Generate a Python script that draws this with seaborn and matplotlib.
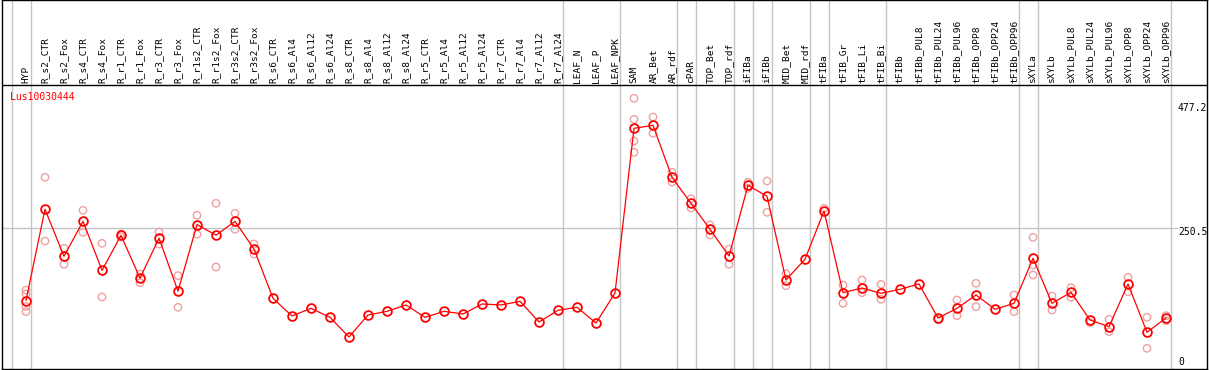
import numpy as np
import pandas as pd
import matplotlib
matplotlib.use("Agg")
import matplotlib.pyplot as plt
import matplotlib.transforms as mtransforms
import seaborn as sns

# ---------------- data ----------------
gene = "Lus10030444"
categories = [
    "HYP", "R_s2_CTR", "R_s2_Fox", "R_s4_CTR", "R_s4_Fox", "R_r1_CTR", "R_r1_Fox",
    "R_r3_CTR", "R_r3_Fox", "R_r1s2_CTR", "R_r1s2_Fox", "R_r3s2_CTR", "R_r3s2_Fox",
    "R_s6_CTR", "R_s6_Al4", "R_s6_Al12", "R_s6_Al24", "R_s8_CTR", "R_s8_Al4",
    "R_s8_Al12", "R_s8_Al24", "R_r5_CTR", "R_r5_Al4", "R_r5_Al12", "R_r5_Al24",
    "R_r7_CTR", "R_r7_Al4", "R_r7_Al12", "R_r7_Al24", "LEAF_N", "LEAF_P", "LEAF_NPK",
    "SAM", "AR_Bet", "AR_rdf", "cPAR", "TOP_Bet", "TOP_rdf", "iFIBa", "iFIBb",
    "MID_Bet", "MID_rdf", "tFIBa", "tFIB_Gr", "tFIB_Li", "tFIB_Bi", "tFIBb",
    "tFIBb_PUL8", "tFIBb_PUL24", "tFIBb_PUL96", "tFIBb_OPP8", "tFIBb_OPP24", "tFIBb_OPP96",
    "sXYLa", "sXYLb", "sXYLb_PUL8", "sXYLb_PUL24", "sXYLb_PUL96", "sXYLb_OPP8",
    "sXYLb_OPP24", "sXYLb_OPP96",
]
means = [
    122.5, 283.5, 200.5, 262.3, 175.8, 237.5, 162.0, 232.5, 139.0, 256.5, 237.8, 262.3, 213.4,
    126.4, 95.3, 108.8, 92.9, 58.2, 97.0, 103.5, 114.7, 92.9, 103.5, 98.8, 116.4,
    114.7, 121.1, 84.7, 105.3, 110.6, 82.9, 135.8,
    426.3, 431.6, 339.9, 294.0, 248.2, 201.1, 325.8, 306.4,
    158.8, 195.3, 280.5, 136.4, 144.6, 135.3, 142.3,
    151.7, 91.7, 108.8, 132.3, 107.1, 117.6,
    197.0, 117.6, 137.0, 88.2, 76.4, 151.7, 66.5, 91.7,
]
replicates = [
    [141, 134, 112, 103], [340, 227.5], [214.6, 186.4], [281.7, 242.9], [223.4, 128.8],
    [240, 235], [169.3, 154], [243.4, 222], [166.4, 110.6], [272.9, 239.4], [294, 181.7],
    [276.4, 248.2], [222.3, 204.6],
    [], [], [], [], [], [], [], [], [], [], [], [], [], [], [], [], [], [], [],
    [479.3, 442.2, 404, 384], [446.3, 417.5], [348.7, 331.6], [302.2, 285.8],
    [255.8, 238.1], [213.4, 186.4], [331.1, 320.5], [333.4, 278.2],
    [169.9, 148.7], [], [285.2], [149.9, 117.6], [158.8, 136.4], [151.1, 124.7], [],
    [], [89.0], [123.5, 95.8], [152.9, 111.7], [], [132.3, 102.9],
    [234, 185.2, 167.6], [130.5, 105.8], [145.2, 128.2], [83.5], [89.4, 67.6],
    [163.5, 138.1], [92.9, 38.2], [95.8, 87.0],
]
group_breaks = [-1, 0, 28, 31, 34, 35, 37, 38, 39, 41, 42, 45, 52, 53, 60]
scale_labels = ["477.2", "250.5", "0"]
scale_values = [477.2, 250.5, 0.0]

# ---------------- frames ----------------
pos = np.arange(len(categories))
df_mean = pd.DataFrame({"pos": pos, "value": means, "cat": categories})
rep_pos, rep_val = [], []
for i, reps in enumerate(replicates):
    for v in reps:
        rep_pos.append(i)
        rep_val.append(v)
df_rep = pd.DataFrame({"pos": rep_pos, "value": rep_val})

# ---------------- style ----------------
sns.set_theme(style="white")
plt.rcParams["font.family"] = ["DejaVu Sans Mono", "DejaVu Sans"]

W, H = 1209, 370
fig = plt.figure(figsize=(W / 100, H / 100), dpi=100)
ax = fig.add_axes([2 / W, 1 / H, 1205 / W, 369 / H])

GRID = "#c4c4c4"
RED = "#ff0000"
PINK = "#f0a0a0"

k = 0.5669
ax.set_xlim((2 - 26) / 19, (1207 - 26) / 19)
ax.set_ylim(1.76, 370 / k)
header_y = (370 - 85.5) / k

for b in group_breaks:
    ax.axvline(b + 0.247, color=GRID, lw=1.0, zorder=0)
ax.axhline(250.5, xmin=0, xmax=(1177 - 2) / 1205, color=GRID, lw=1.0, zorder=0)
ax.axhline(header_y, color="black", lw=1.0, zorder=5)

sns.scatterplot(data=df_rep, x="pos", y="value", ax=ax, marker="o",
                s=28, facecolors="none", edgecolor=PINK, linewidth=1.0,
                legend=False, zorder=2)
sns.lineplot(data=df_mean, x="pos", y="value", ax=ax, color=RED, lw=0.9,
             marker="o", markersize=6.3, markerfacecolor="none",
             markeredgecolor=RED, markeredgewidth=1.3, legend=False, zorder=3)

for i, c in enumerate(categories):
    ax.text(i, 506.5, c, rotation=90, ha="center", va="bottom",
            fontsize=6.8, color="black")

trans = mtransforms.blended_transform_factory(ax.transAxes, ax.transData)
label_x = (1178 - 2) / 1205
ax.text(label_x, 471, scale_labels[0], transform=trans, ha="left", va="top",
        fontsize=7, color="black")
ax.text(label_x, scale_values[1] + 1, scale_labels[1], transform=trans, ha="left",
        va="top", fontsize=7, color="black")
ax.text(label_x, scale_values[2] + 5, scale_labels[2], transform=trans, ha="left",
        va="bottom", fontsize=7, color="black")

ax.text((10 - 2) / 1205, 481.5, gene, transform=trans, ha="left", va="center",
        fontsize=7, color=RED)

ax.set_xticks([])
ax.set_yticks([])
ax.set_xlabel("")
ax.set_ylabel("")
for s in ax.spines.values():
    s.set_color("black")
    s.set_linewidth(1.0)
    s.set_visible(True)

fig.savefig("out.png", dpi=100)
